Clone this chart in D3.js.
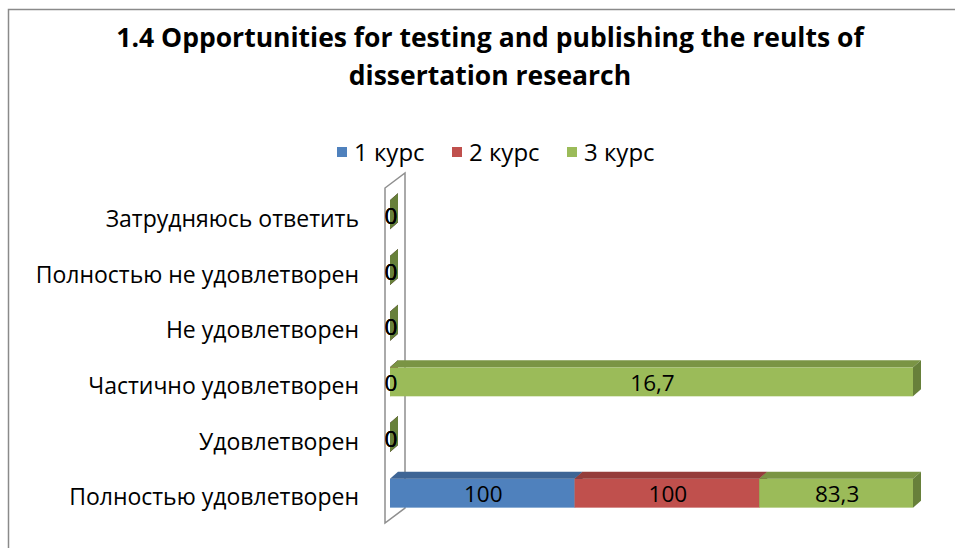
<!DOCTYPE html>
<html>
<head>
<meta charset="utf-8">
<script src="https://cdn.jsdelivr.net/npm/d3@7"></script>
<style>
    body { margin: 0; background: white; }
    text { font-family: "Open Sans", "Noto Sans", sans-serif; fill: black; }
</style>
</head>
<body>
<svg id="chart"></svg>
<script>
// 1.4 Opportunities for testing and publishing the results (100% stacked 3D bars)

var categories = ["Полностью удовлетворен", "Удовлетворен", "Частично удовлетворен",
    "Не удовлетворен", "Полностью не удовлетворен", "Затрудняюсь ответить"];
var seriesNames = ["1 курс", "2 курс", "3 курс"];
var kurs1 = [100, 0, 0, 0, 0, 0];
var kurs2 = [100, 0, 0, 0, 0, 0];
var kurs3 = [83.3, 0, 16.7, 0, 0, 0];
var titleLines = ["1.4 Opportunities for testing and publishing the reults of", "dissertation research"];

var dimensions = {
    width: 955,
    height: 548,
    margin: { top: 187, bottom: 27, left: 390, right: 42 }
}

var svg = d3.select("#chart")
    .attr("width", dimensions.width)
    .attr("height", dimensions.height);

// chart area border (cropped at right and bottom)
svg.append("rect")
    .attr("x", 8.5).attr("y", 9.5)
    .attr("width", 1000).attr("height", 600)
    .attr("fill", "white")
    .attr("stroke", "#8a8a8a")
    .attr("stroke-width", 1.5);

var table = categories.map((c, i) => ({
    category: c,
    "1 курс": kurs1[i],
    "2 курс": kurs2[i],
    "3 курс": kurs3[i]
}));

var stacked = d3.stack()
    .keys(seriesNames)
    .offset(d3.stackOffsetExpand)(table);

var xScale = d3.scaleLinear()
    .domain([0, 1])
    .range([dimensions.margin.left, dimensions.width - dimensions.margin.right]);

var yScale = d3.scaleBand()
    .domain(categories)
    .range([dimensions.height - dimensions.margin.bottom, dimensions.margin.top])
    .paddingInner(0.48)
    .paddingOuter(0.24);

var color = d3.scaleOrdinal().domain(seriesNames).range(["#4F81BD", "#C0504D", "#9BBB59"]);
var topColor = d3.scaleOrdinal().domain(seriesNames).range(["#3E6595", "#953D3B", "#7A9444"]);
var sideColor = d3.scaleOrdinal().domain(seriesNames).range(["#36577F", "#7E3331", "#67803A"]);

// back wall
var wallDx = 20, wallDy = 15;
var wx = xScale(0) - 5;
var wTop = dimensions.margin.top + 1, wBot = dimensions.height - dimensions.margin.bottom + 2;
svg.append("path")
    .attr("d", `M${wx},${wTop} L${wx + wallDx},${wTop - wallDy} L${wx + wallDx},${wBot - wallDy} L${wx},${wBot} Z`)
    .attr("fill", "white")
    .attr("stroke", "#8f8f8f")
    .attr("stroke-width", 1.5);

// bars
var dx = 8, dy = 7;
var layers = svg.selectAll(".layer")
    .data(stacked)
    .enter()
    .append("g")
    .attr("class", "layer");

var segs = layers.selectAll(".seg")
    .data(s => s.map(d => ({ key: s.key, x0: d[0], x1: d[1], cat: d.data.category })))
    .enter()
    .append("g")
    .attr("class", "seg");

segs.append("rect")
    .attr("x", d => xScale(d.x0))
    .attr("y", d => yScale(d.cat))
    .attr("width", d => xScale(d.x1) - xScale(d.x0))
    .attr("height", yScale.bandwidth())
    .attr("fill", d => color(d.key));

segs.append("path")
    .attr("d", d => {
        var a = xScale(d.x0), b = xScale(d.x1), y = yScale(d.cat);
        return `M${a},${y} L${a + dx},${y - dy} L${b + dx},${y - dy} L${b},${y} Z`;
    })
    .attr("fill", d => topColor(d.key));

segs.append("path")
    .attr("d", d => {
        var b = xScale(d.x1), y = yScale(d.cat), h = yScale.bandwidth();
        return `M${b},${y} L${b + dx},${y - dy} L${b + dx},${y + h - dy} L${b},${y + h} Z`;
    })
    .attr("fill", d => sideColor(d.key));

// data labels
var fmt = d3.formatLocale({ decimal: ",", thousands: " ", grouping: [3], currency: ["", ""] }).format(",~f");

var labelData = stacked.flatMap(s => s.map((d, i) => ({ x0: d[0], x1: d[1], cat: d.data.category, value: d.data[s.key] })));

svg.selectAll(".data-label")
    .data(labelData)
    .enter()
    .append("text")
    .attr("class", "data-label")
    .attr("x", d => xScale((d.x0 + d.x1) / 2) + 1)
    .attr("y", d => yScale(d.cat) + yScale.bandwidth() / 2 + 1)
    .attr("dy", "0.36em")
    .attr("text-anchor", "middle")
    .style("font-size", "22.5px")
    .text(d => fmt(d.value));

// category axis labels
svg.selectAll(".cat-label")
    .data(categories)
    .enter()
    .append("text")
    .attr("class", "cat-label")
    .attr("x", 359)
    .attr("y", d => yScale(d) + yScale.bandwidth() / 2 + 4)
    .attr("dy", "0.36em")
    .attr("text-anchor", "end")
    .style("font-size", "23px")
    .text(d => d);

// title
svg.selectAll(".title")
    .data(titleLines)
    .enter()
    .append("text")
    .attr("class", "title")
    .attr("x", 490)
    .attr("y", (d, i) => 47 + i * 38)
    .attr("text-anchor", "middle")
    .style("font-size", "26.5px")
    .style("font-weight", "bold")
    .text(d => d);

// legend
var legendX = d3.scalePoint().domain(seriesNames).range([337, 567]);

var legend = svg.selectAll(".legend")
    .data(seriesNames)
    .enter()
    .append("g")
    .attr("class", "legend")
    .attr("transform", d => `translate(${legendX(d)},147)`);

legend.append("rect")
    .attr("width", 10)
    .attr("height", 10)
    .attr("fill", d => color(d));

legend.append("text")
    .attr("x", 17)
    .attr("y", 5)
    .attr("dy", "0.36em")
    .style("font-size", "24px")
    .text(d => d);
</script>
</body>
</html>
